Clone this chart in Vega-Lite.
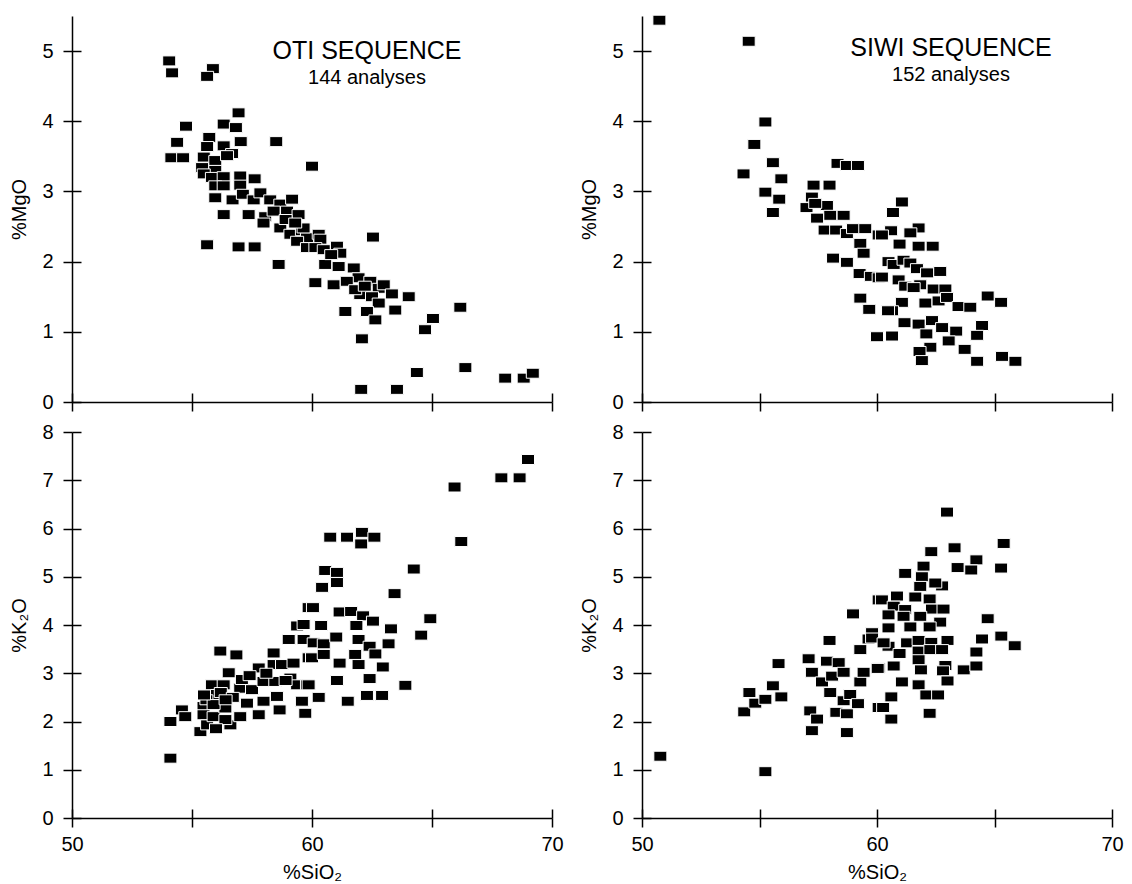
{
  "$schema": "https://vega.github.io/schema/vega-lite/v6.json",
  "background": "white",
  "padding": {"left": 9, "top": 13, "right": 5, "bottom": 5},
  "bounds": "flush",
  "columns": 2,
  "spacing": {"row": 30, "column": 90},
  "datasets": {
    "otiMgO": [
      {"SiO2":54.05,"MgO":4.86},{"SiO2":54.17,"MgO":4.69},{"SiO2":55.87,"MgO":4.75},{"SiO2":55.63,"MgO":4.64},{"SiO2":56.94,"MgO":4.12},
      {"SiO2":54.75,"MgO":3.93},{"SiO2":56.32,"MgO":3.96},{"SiO2":56.83,"MgO":3.91},{"SiO2":54.38,"MgO":3.70},{"SiO2":55.72,"MgO":3.77},
      {"SiO2":55.63,"MgO":3.64},{"SiO2":56.32,"MgO":3.65},{"SiO2":57.03,"MgO":3.71},{"SiO2":58.51,"MgO":3.71},{"SiO2":54.14,"MgO":3.48},
      {"SiO2":54.63,"MgO":3.48},{"SiO2":55.49,"MgO":3.49},{"SiO2":55.97,"MgO":3.44},{"SiO2":56.67,"MgO":3.54},{"SiO2":56.46,"MgO":3.51},
      {"SiO2":55.42,"MgO":3.34},{"SiO2":55.97,"MgO":3.30},{"SiO2":55.49,"MgO":3.25},{"SiO2":55.83,"MgO":3.20},{"SiO2":56.32,"MgO":3.21},
      {"SiO2":57.01,"MgO":3.22},{"SiO2":57.61,"MgO":3.18},{"SiO2":55.97,"MgO":3.08},{"SiO2":56.32,"MgO":3.08},{"SiO2":57.01,"MgO":3.09},
      {"SiO2":55.97,"MgO":2.91},{"SiO2":56.69,"MgO":2.88},{"SiO2":57.12,"MgO":2.96},{"SiO2":57.57,"MgO":2.88},{"SiO2":57.85,"MgO":2.98},
      {"SiO2":58.26,"MgO":2.88},{"SiO2":58.68,"MgO":2.82},{"SiO2":59.17,"MgO":2.89},{"SiO2":56.32,"MgO":2.67},{"SiO2":57.36,"MgO":2.67},
      {"SiO2":58.05,"MgO":2.64},{"SiO2":58.40,"MgO":2.72},{"SiO2":58.96,"MgO":2.72},{"SiO2":59.44,"MgO":2.67},{"SiO2":57.98,"MgO":2.55},
      {"SiO2":58.68,"MgO":2.48},{"SiO2":59.10,"MgO":2.39},{"SiO2":59.58,"MgO":2.44},{"SiO2":59.79,"MgO":2.34},{"SiO2":59.38,"MgO":2.29},
      {"SiO2":59.79,"MgO":2.20},{"SiO2":55.63,"MgO":2.24},{"SiO2":56.94,"MgO":2.21},{"SiO2":57.61,"MgO":2.21},{"SiO2":58.61,"MgO":1.96},
      {"SiO2":60.0,"MgO":3.36},{"SiO2":62.54,"MgO":2.35},{"SiO2":59.65,"MgO":2.48},{"SiO2":60.28,"MgO":2.39},{"SiO2":60.35,"MgO":2.32},
      {"SiO2":60.14,"MgO":2.20},{"SiO2":60.49,"MgO":2.17},{"SiO2":61.04,"MgO":2.22},{"SiO2":61.18,"MgO":2.12},{"SiO2":60.55,"MgO":1.96},
      {"SiO2":61.11,"MgO":1.93},{"SiO2":61.74,"MgO":1.91},{"SiO2":61.94,"MgO":1.77},{"SiO2":60.14,"MgO":1.70},{"SiO2":60.90,"MgO":1.67},
      {"SiO2":61.45,"MgO":1.72},{"SiO2":62.43,"MgO":1.72},{"SiO2":62.78,"MgO":1.62},{"SiO2":62.99,"MgO":1.67},{"SiO2":62.01,"MgO":1.53},
      {"SiO2":62.50,"MgO":1.50},{"SiO2":62.78,"MgO":1.41},{"SiO2":63.33,"MgO":1.54},{"SiO2":64.03,"MgO":1.50},{"SiO2":63.47,"MgO":1.31},
      {"SiO2":61.39,"MgO":1.29},{"SiO2":62.29,"MgO":1.29},{"SiO2":62.64,"MgO":1.17},{"SiO2":66.18,"MgO":1.35},{"SiO2":65.04,"MgO":1.19},
      {"SiO2":64.71,"MgO":1.03},{"SiO2":62.08,"MgO":0.90},{"SiO2":64.37,"MgO":0.42},{"SiO2":66.39,"MgO":0.49},{"SiO2":62.05,"MgO":0.18},
      {"SiO2":63.54,"MgO":0.18},{"SiO2":68.05,"MgO":0.34},{"SiO2":68.82,"MgO":0.34},{"SiO2":69.2,"MgO":0.41},
      {"SiO2":58.9,"MgO":2.6},{"SiO2":59.3,"MgO":2.55},{"SiO2":60.8,"MgO":2.1},{"SiO2":61.8,"MgO":1.6},{"SiO2":62.2,"MgO":1.65}
    ],
    "siwiMgO": [
      {"SiO2":50.74,"MgO":5.44},{"SiO2":54.54,"MgO":5.14},{"SiO2":55.25,"MgO":3.99},{"SiO2":54.78,"MgO":3.67},{"SiO2":55.57,"MgO":3.41},
      {"SiO2":54.32,"MgO":3.25},{"SiO2":55.93,"MgO":3.18},{"SiO2":55.25,"MgO":2.99},{"SiO2":55.84,"MgO":2.89},{"SiO2":55.57,"MgO":2.70},
      {"SiO2":58.32,"MgO":3.40},{"SiO2":58.72,"MgO":3.37},{"SiO2":59.19,"MgO":3.37},{"SiO2":57.30,"MgO":3.09},{"SiO2":57.98,"MgO":3.09},
      {"SiO2":57.23,"MgO":2.92},{"SiO2":57.87,"MgO":2.80},{"SiO2":57.0,"MgO":2.77},{"SiO2":57.37,"MgO":2.83},{"SiO2":58.01,"MgO":2.66},
      {"SiO2":58.58,"MgO":2.66},{"SiO2":57.45,"MgO":2.62},{"SiO2":57.77,"MgO":2.45},{"SiO2":58.26,"MgO":2.45},{"SiO2":58.72,"MgO":2.40},
      {"SiO2":58.98,"MgO":2.47},{"SiO2":59.50,"MgO":2.47},{"SiO2":59.29,"MgO":2.26},{"SiO2":59.43,"MgO":2.12},{"SiO2":60.07,"MgO":2.38},
      {"SiO2":58.13,"MgO":2.05},{"SiO2":58.72,"MgO":1.99},{"SiO2":59.26,"MgO":1.83},{"SiO2":59.74,"MgO":1.79},{"SiO2":60.07,"MgO":1.77},
      {"SiO2":59.29,"MgO":1.48},{"SiO2":59.67,"MgO":1.32},{"SiO2":60.0,"MgO":0.93},{"SiO2":61.06,"MgO":2.85},{"SiO2":60.68,"MgO":2.70},
      {"SiO2":60.60,"MgO":2.44},{"SiO2":60.21,"MgO":2.38},{"SiO2":61.77,"MgO":2.48},{"SiO2":61.42,"MgO":2.41},{"SiO2":60.96,"MgO":2.25},
      {"SiO2":61.77,"MgO":2.22},{"SiO2":62.37,"MgO":2.22},{"SiO2":60.49,"MgO":2.00},{"SiO2":60.71,"MgO":1.96},{"SiO2":61.13,"MgO":2.02},
      {"SiO2":61.42,"MgO":1.98},{"SiO2":61.70,"MgO":1.90},{"SiO2":62.13,"MgO":1.84},{"SiO2":62.69,"MgO":1.86},{"SiO2":60.21,"MgO":1.78},
      {"SiO2":60.92,"MgO":1.74},{"SiO2":61.2,"MgO":1.65},{"SiO2":61.84,"MgO":1.67},{"SiO2":62.41,"MgO":1.61},{"SiO2":62.91,"MgO":1.61},
      {"SiO2":61.56,"MgO":1.63},{"SiO2":61.06,"MgO":1.42},{"SiO2":62.06,"MgO":1.41},{"SiO2":62.62,"MgO":1.44},{"SiO2":62.98,"MgO":1.49},
      {"SiO2":63.47,"MgO":1.36},{"SiO2":63.97,"MgO":1.35},{"SiO2":64.71,"MgO":1.51},{"SiO2":65.28,"MgO":1.42},{"SiO2":60.64,"MgO":1.30},
      {"SiO2":61.17,"MgO":1.13},{"SiO2":61.77,"MgO":1.11},{"SiO2":62.34,"MgO":1.16},{"SiO2":62.10,"MgO":0.97},{"SiO2":62.77,"MgO":1.06},
      {"SiO2":63.37,"MgO":1.01},{"SiO2":64.47,"MgO":1.09},{"SiO2":64.26,"MgO":0.95},{"SiO2":63.05,"MgO":0.87},{"SiO2":62.27,"MgO":0.78},
      {"SiO2":61.81,"MgO":0.72},{"SiO2":61.91,"MgO":0.59},{"SiO2":63.73,"MgO":0.75},{"SiO2":64.26,"MgO":0.58},{"SiO2":65.32,"MgO":0.65},
      {"SiO2":65.89,"MgO":0.58},{"SiO2":60.64,"MgO":0.94},{"SiO2":60.47,"MgO":1.30}
    ],
    "otiK2O": [
      {"SiO2":54.10,"K2O":1.24},{"SiO2":54.10,"K2O":2.00},{"SiO2":54.58,"K2O":2.24},{"SiO2":54.72,"K2O":2.10},{"SiO2":55.48,"K2O":2.31},
      {"SiO2":55.48,"K2O":2.14},{"SiO2":55.35,"K2O":1.79},{"SiO2":55.63,"K2O":1.93},{"SiO2":55.90,"K2O":2.10},{"SiO2":56.39,"K2O":2.28},
      {"SiO2":56.60,"K2O":1.93},{"SiO2":56.39,"K2O":2.04},{"SiO2":55.83,"K2O":2.76},{"SiO2":56.32,"K2O":2.76},{"SiO2":56.53,"K2O":3.01},
      {"SiO2":56.04,"K2O":2.56},{"SiO2":57.01,"K2O":2.10},{"SiO2":57.01,"K2O":2.69},{"SiO2":57.29,"K2O":2.38},{"SiO2":57.50,"K2O":2.66},
      {"SiO2":57.78,"K2O":2.14},{"SiO2":57.08,"K2O":2.87},{"SiO2":56.18,"K2O":3.46},{"SiO2":56.85,"K2O":3.38},{"SiO2":57.98,"K2O":2.42},
      {"SiO2":57.98,"K2O":2.83},{"SiO2":57.78,"K2O":3.11},{"SiO2":58.47,"K2O":2.83},{"SiO2":58.54,"K2O":2.52},{"SiO2":58.65,"K2O":2.24},
      {"SiO2":58.40,"K2O":3.18},{"SiO2":58.75,"K2O":3.18},{"SiO2":58.40,"K2O":3.42},{"SiO2":59.23,"K2O":3.21},{"SiO2":59.10,"K2O":2.90},
      {"SiO2":59.38,"K2O":2.76},{"SiO2":59.58,"K2O":2.42},{"SiO2":59.72,"K2O":2.17},{"SiO2":59.03,"K2O":3.70},{"SiO2":59.38,"K2O":3.98},
      {"SiO2":59.65,"K2O":3.70},{"SiO2":59.86,"K2O":4.36},{"SiO2":59.86,"K2O":3.32},{"SiO2":59.79,"K2O":2.76},
      {"SiO2":60.76,"K2O":5.82},{"SiO2":61.46,"K2O":5.82},{"SiO2":62.08,"K2O":5.92},{"SiO2":62.05,"K2O":5.68},{"SiO2":62.60,"K2O":5.82},
      {"SiO2":66.22,"K2O":5.73},{"SiO2":65.94,"K2O":6.86},{"SiO2":67.89,"K2O":7.05},{"SiO2":68.65,"K2O":7.05},{"SiO2":69.0,"K2O":7.43},
      {"SiO2":60.55,"K2O":5.13},{"SiO2":61.04,"K2O":5.09},{"SiO2":60.42,"K2O":4.78},{"SiO2":61.04,"K2O":4.88},{"SiO2":64.24,"K2O":5.16},
      {"SiO2":63.44,"K2O":4.65},{"SiO2":60.04,"K2O":4.36},{"SiO2":61.15,"K2O":4.27},{"SiO2":61.63,"K2O":4.28},{"SiO2":62.13,"K2O":4.19},
      {"SiO2":62.54,"K2O":4.08},{"SiO2":61.85,"K2O":3.99},{"SiO2":64.93,"K2O":4.13},{"SiO2":63.29,"K2O":3.92},{"SiO2":64.55,"K2O":3.79},
      {"SiO2":60.38,"K2O":3.99},{"SiO2":59.65,"K2O":4.01},{"SiO2":60.07,"K2O":3.63},{"SiO2":60.49,"K2O":3.61},{"SiO2":61.01,"K2O":3.75},
      {"SiO2":61.94,"K2O":3.70},{"SiO2":62.40,"K2O":3.56},{"SiO2":63.19,"K2O":3.61},{"SiO2":60.0,"K2O":3.32},{"SiO2":60.49,"K2O":3.39},
      {"SiO2":61.15,"K2O":3.21},{"SiO2":61.80,"K2O":3.39},{"SiO2":61.94,"K2O":3.18},{"SiO2":62.64,"K2O":3.40},{"SiO2":62.95,"K2O":3.13},
      {"SiO2":61.04,"K2O":2.85},{"SiO2":62.40,"K2O":2.89},{"SiO2":59.86,"K2O":2.76},{"SiO2":63.89,"K2O":2.75},{"SiO2":60.28,"K2O":2.50},
      {"SiO2":61.49,"K2O":2.42},{"SiO2":62.29,"K2O":2.54},{"SiO2":62.92,"K2O":2.54},{"SiO2":59.58,"K2O":2.42},
      {"SiO2":55.6,"K2O":2.45},{"SiO2":55.9,"K2O":2.35},{"SiO2":56.2,"K2O":2.6},{"SiO2":56.0,"K2O":1.85},{"SiO2":55.5,"K2O":2.55},
      {"SiO2":56.7,"K2O":2.5},{"SiO2":56.4,"K2O":2.45},{"SiO2":57.4,"K2O":2.95},{"SiO2":58.1,"K2O":3.0},{"SiO2":58.9,"K2O":2.85}
    ],
    "siwiK2O": [
      {"SiO2":50.78,"K2O":1.28},{"SiO2":55.25,"K2O":0.96},{"SiO2":54.35,"K2O":2.20},{"SiO2":54.57,"K2O":2.60},{"SiO2":54.82,"K2O":2.38},
      {"SiO2":55.25,"K2O":2.46},{"SiO2":55.57,"K2O":2.74},{"SiO2":55.93,"K2O":2.51},{"SiO2":55.81,"K2O":3.20},{"SiO2":57.98,"K2O":3.68},
      {"SiO2":58.98,"K2O":4.23},{"SiO2":57.09,"K2O":3.30},{"SiO2":57.87,"K2O":3.25},{"SiO2":58.37,"K2O":3.22},{"SiO2":57.23,"K2O":3.02},
      {"SiO2":57.66,"K2O":2.82},{"SiO2":58.09,"K2O":2.94},{"SiO2":58.58,"K2O":3.02},{"SiO2":58.01,"K2O":2.60},{"SiO2":57.16,"K2O":2.22},
      {"SiO2":57.45,"K2O":2.05},{"SiO2":57.23,"K2O":1.81},{"SiO2":58.27,"K2O":2.19},{"SiO2":58.72,"K2O":2.16},{"SiO2":58.72,"K2O":1.77},
      {"SiO2":58.58,"K2O":2.43},{"SiO2":58.86,"K2O":2.56},{"SiO2":59.19,"K2O":2.37},{"SiO2":59.29,"K2O":2.82},{"SiO2":59.43,"K2O":3.02},
      {"SiO2":59.29,"K2O":3.49},{"SiO2":59.64,"K2O":3.71},{"SiO2":59.79,"K2O":3.84},{"SiO2":60.07,"K2O":4.52},{"SiO2":60.07,"K2O":3.11},
      {"SiO2":60.07,"K2O":2.29},
      {"SiO2":62.98,"K2O":6.34},{"SiO2":65.39,"K2O":5.69},{"SiO2":63.30,"K2O":5.60},{"SiO2":62.31,"K2O":5.52},{"SiO2":64.23,"K2O":5.35},
      {"SiO2":63.43,"K2O":5.19},{"SiO2":64.01,"K2O":5.14},{"SiO2":65.28,"K2O":5.18},{"SiO2":61.98,"K2O":5.22},{"SiO2":61.20,"K2O":5.07},
      {"SiO2":61.91,"K2O":5.00},{"SiO2":62.77,"K2O":4.81},{"SiO2":62.48,"K2O":4.87},{"SiO2":61.84,"K2O":4.80},{"SiO2":60.85,"K2O":4.60},
      {"SiO2":61.63,"K2O":4.58},{"SiO2":62.24,"K2O":4.54},{"SiO2":60.21,"K2O":4.52},{"SiO2":60.71,"K2O":4.39},{"SiO2":61.20,"K2O":4.32},
      {"SiO2":62.34,"K2O":4.33},{"SiO2":62.83,"K2O":4.33},{"SiO2":60.49,"K2O":4.21},{"SiO2":61.13,"K2O":4.18},{"SiO2":61.84,"K2O":4.18},
      {"SiO2":62.69,"K2O":4.06},{"SiO2":62.24,"K2O":3.96},{"SiO2":61.42,"K2O":3.96},{"SiO2":60.49,"K2O":3.94},{"SiO2":64.71,"K2O":4.13},
      {"SiO2":59.79,"K2O":3.73},{"SiO2":60.49,"K2O":3.56},{"SiO2":60.96,"K2O":3.41},{"SiO2":61.28,"K2O":3.63},{"SiO2":61.77,"K2O":3.68},
      {"SiO2":62.31,"K2O":3.64},{"SiO2":63.0,"K2O":3.68},{"SiO2":61.77,"K2O":3.46},{"SiO2":62.27,"K2O":3.49},{"SiO2":62.77,"K2O":3.49},
      {"SiO2":64.47,"K2O":3.71},{"SiO2":65.29,"K2O":3.77},{"SiO2":65.86,"K2O":3.57},{"SiO2":64.23,"K2O":3.44},{"SiO2":61.77,"K2O":3.28},
      {"SiO2":60.03,"K2O":3.10},{"SiO2":60.71,"K2O":3.15},{"SiO2":61.87,"K2O":3.07},{"SiO2":62.91,"K2O":3.16},{"SiO2":62.81,"K2O":3.05},
      {"SiO2":63.69,"K2O":3.07},{"SiO2":64.23,"K2O":3.15},{"SiO2":61.06,"K2O":2.82},{"SiO2":61.77,"K2O":2.76},{"SiO2":63.0,"K2O":2.84},
      {"SiO2":62.10,"K2O":2.55},{"SiO2":62.60,"K2O":2.55},{"SiO2":60.61,"K2O":2.51},{"SiO2":60.26,"K2O":2.29},{"SiO2":60.61,"K2O":2.05},
      {"SiO2":62.24,"K2O":2.17},{"SiO2":60.28,"K2O":3.63}
    ]
  },
  "concat": [
    {
      "width": 480, "height": 386,
      "title": {"text": "OTI SEQUENCE", "subtitle": "144 analyses", "dx": 55, "offset": -72},
      "data": {"name": "otiMgO"},
      "mark": {"type": "point", "shape": "M-1,-0.77H1V0.77H-1Z", "size": 169, "filled": true, "color": "black", "stroke": "white", "strokeWidth": 1, "opacity": 1},
      "encoding": {
        "x": {"field": "SiO2", "type": "quantitative", "scale": {"domain": [50, 70], "nice": false, "zero": false},
              "axis": {"title": null, "labels": false, "values": [50, 55, 60, 65, 70], "grid": true, "gridDash": [0, 377, 9, 1000]}},
        "y": {"field": "MgO", "type": "quantitative", "scale": {"domain": [0, 5.5], "nice": false},
              "axis": {"title": "%MgO", "values": [0, 1, 2, 3, 4, 5], "grid": true, "gridDash": [9, 1000]}}
      }
    },
    {
      "width": 470, "height": 386,
      "title": {"text": "SIWI SEQUENCE", "subtitle": "152 analyses", "dx": 74, "offset": -72},
      "data": {"name": "siwiMgO"},
      "mark": {"type": "point", "shape": "M-1,-0.77H1V0.77H-1Z", "size": 169, "filled": true, "color": "black", "stroke": "white", "strokeWidth": 1, "opacity": 1},
      "encoding": {
        "x": {"field": "SiO2", "type": "quantitative", "scale": {"domain": [50, 70], "nice": false, "zero": false},
              "axis": {"title": null, "labels": false, "values": [50, 55, 60, 65, 70], "grid": true, "gridDash": [0, 377, 9, 1000]}},
        "y": {"field": "MgO", "type": "quantitative", "scale": {"domain": [0, 5.5], "nice": false},
              "axis": {"title": "%MgO", "values": [0, 1, 2, 3, 4, 5], "grid": true, "gridDash": [9, 1000]}}
      }
    },
    {
      "width": 480, "height": 386,
      "data": {"name": "otiK2O"},
      "mark": {"type": "point", "shape": "M-1,-0.77H1V0.77H-1Z", "size": 169, "filled": true, "color": "black", "stroke": "white", "strokeWidth": 1, "opacity": 1},
      "encoding": {
        "x": {"field": "SiO2", "type": "quantitative", "scale": {"domain": [50, 70], "nice": false, "zero": false},
              "axis": {"title": "%SiO₂", "values": [50, 55, 60, 65, 70], "labelExpr": "datum.value % 10 === 0 ? datum.label : ''", "grid": true, "gridDash": [0, 377, 9, 1000]}},
        "y": {"field": "K2O", "type": "quantitative", "scale": {"domain": [0, 8], "nice": false},
              "axis": {"title": "%K₂O", "values": [0, 1, 2, 3, 4, 5, 6, 7, 8], "grid": true, "gridDash": [9, 1000]}}
      }
    },
    {
      "width": 470, "height": 386,
      "data": {"name": "siwiK2O"},
      "mark": {"type": "point", "shape": "M-1,-0.77H1V0.77H-1Z", "size": 169, "filled": true, "color": "black", "stroke": "white", "strokeWidth": 1, "opacity": 1},
      "encoding": {
        "x": {"field": "SiO2", "type": "quantitative", "scale": {"domain": [50, 70], "nice": false, "zero": false},
              "axis": {"title": "%SiO₂", "values": [50, 55, 60, 65, 70], "labelExpr": "datum.value % 10 === 0 ? datum.label : ''", "grid": true, "gridDash": [0, 377, 9, 1000]}},
        "y": {"field": "K2O", "type": "quantitative", "scale": {"domain": [0, 8], "nice": false},
              "axis": {"title": "%K₂O", "values": [0, 1, 2, 3, 4, 5, 6, 7, 8], "grid": true, "gridDash": [9, 1000]}}
      }
    }
  ],
  "config": {
    "view": {"stroke": null},
    "axis": {
      "gridColor": "black", "gridWidth": 1.5, "gridOpacity": 1,
      "domainColor": "black", "domainWidth": 1.5,
      "tickColor": "black", "tickWidth": 1.5, "tickSize": 9,
      "labelFlush": false,
      "labelFont": "Liberation Sans", "labelFontSize": 20, "labelColor": "black",
      "titleFont": "Liberation Sans", "titleFontSize": 20, "titleFontWeight": "normal", "titleColor": "black"
    },
    "axisX": {"labelPadding": 7, "titlePadding": 8},
    "axisY": {"labelPadding": 10, "titlePadding": 12},
    "title": {
      "anchor": "middle", "frame": "group",
      "font": "Liberation Sans", "fontSize": 25, "fontWeight": "normal", "color": "black",
      "subtitleFont": "Liberation Sans", "subtitleFontSize": 20, "subtitleColor": "black", "subtitlePadding": 4
    }
  }
}
